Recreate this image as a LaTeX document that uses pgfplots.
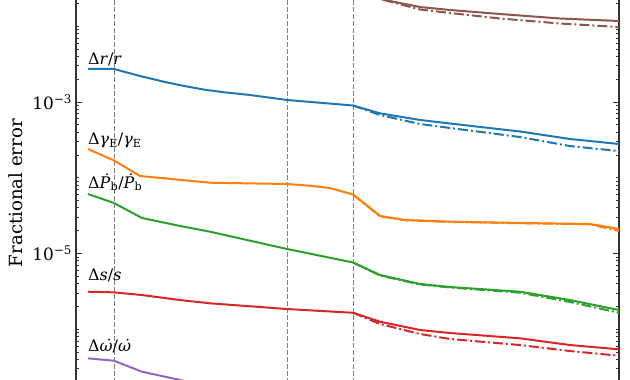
\documentclass[border=0pt]{standalone}
\usepackage{fontspec}
\setmainfont{DejaVu Serif}
\usepackage{pgfplots}
\pgfplotsset{compat=1.18}
\definecolor{tblue}{HTML}{1F77B4}
\definecolor{torange}{HTML}{FF7F0E}
\definecolor{tgreen}{HTML}{2CA02C}
\definecolor{tred}{HTML}{D62728}
\definecolor{tpurple}{HTML}{9467BD}
\definecolor{tbrown}{HTML}{8C564B}
\begin{document}
\begin{tikzpicture}
\begin{axis}[
  scale only axis, width=543bp, height=380bp,
  xmin=76, xmax=619,
  ymode=log, ymin=2.138e-7, ymax=0.02221,
  hide x axis,
  axis line style={black!80, line width=1.2bp},
  tick align=inside,
  major tick length=6bp, minor tick length=3.5bp,
  every tick/.style={black!80, line width=0.9bp},
  ytick={1e-5,1e-3},
  yticklabels={10\textsuperscript{−5},10\textsuperscript{−3}},
  minor ytick={3e-7,4e-7,5e-7,6e-7,7e-7,8e-7,9e-7,1e-6,2e-6,3e-6,4e-6,5e-6,6e-6,7e-6,8e-6,9e-6,2e-5,3e-5,4e-5,5e-5,6e-5,7e-5,8e-5,9e-5,1e-4,2e-4,3e-4,4e-4,5e-4,6e-4,7e-4,8e-4,9e-4,2e-3,3e-3,4e-3,5e-3,6e-3,7e-3,8e-3,9e-3,1e-2,2e-2},
  yticklabel style={font=\fontsize{17}{19}\selectfont, xshift=-0.5bp},
  ylabel={Fractional error},
  ylabel style={at={(axis description cs:-0.1105,0.492)}, anchor=center, font=\fontsize{18.2}{20}\selectfont},
  every axis plot/.append style={line width=2bp},
  dd/.style={dash pattern=on 10bp off 3bp on 2bp off 3bp},
]
\coordinate (SW) at (rel axis cs:0,0);
\coordinate (NE) at (rel axis cs:1,1);
% vertical reference lines
\addplot[gray, line width=1bp, dash pattern=on 4.5bp off 2.5bp] coordinates {(114.5,1e-8) (114.5,1)};
\addplot[gray, line width=1bp, dash pattern=on 4.5bp off 2.5bp] coordinates {(287.3,1e-8) (287.3,1)};
\addplot[gray, line width=1bp, dash pattern=on 4.5bp off 2.5bp] coordinates {(353.5,1e-8) (353.5,1)};
% brown
\addplot[tbrown, dd] coordinates {(88,0.2527) (353,0.02748) (380,0.02290) (420,0.01664) (450,0.01496) (500,0.01266) (560,0.01087) (619,0.00977)};
\addplot[tbrown] coordinates {(88,0.2527) (353,0.02748) (385,0.02221) (420,0.01795) (450,0.01639) (500,0.01451) (560,0.01266) (619,0.01173)};
% blue
\addplot[tblue, dd] coordinates {(353,8.99e-4) (380,6.74e-4) (420,5.12e-4) (450,4.54e-4) (520,3.45e-4) (570,2.62e-4) (619,2.25e-4)};
\addplot[tblue] coordinates {(88,2.727e-3) (114,2.727e-3) (140,2.204e-3) (165,1.837e-3) (185,1.62e-3) (205,1.45e-3) (225,1.34e-3) (250,1.237e-3) (287,1.063e-3) (353,8.99e-4) (380,7.09e-4) (420,5.79e-4) (450,5.20e-4) (520,4.08e-4) (570,3.25e-4) (619,2.79e-4)};
% orange
\addplot[torange, dd] coordinates {(353,6.01e-5) (380,3.10e-5) (405,2.75e-5) (450,2.61e-5) (520,2.51e-5) (590,2.43e-5) (619,1.98e-5)};
\addplot[torange] coordinates {(88,2.396e-4) (114,1.689e-4) (140,1.055e-4) (210,8.60e-5) (287,8.27e-5) (310,7.85e-5) (330,7.32e-5) (353,6.01e-5) (380,3.13e-5) (405,2.77e-5) (450,2.63e-5) (520,2.53e-5) (590,2.45e-5) (619,2.11e-5)};
% green
\addplot[tgreen, dd] coordinates {(353,7.61e-6) (380,5.12e-6) (420,3.90e-6) (450,3.56e-6) (520,3.04e-6) (570,2.29e-6) (619,1.65e-6)};
\addplot[tgreen] coordinates {(88,6.10e-5) (114,4.64e-5) (142,2.94e-5) (180,2.31e-5) (210,1.94e-5) (287,1.147e-5) (353,7.61e-6) (380,5.20e-6) (420,3.96e-6) (450,3.61e-6) (520,3.13e-6) (570,2.43e-6) (619,1.795e-6)};
% red
\addplot[tred, dd] coordinates {(353,1.65e-6) (380,1.173e-6) (420,8.66e-7) (450,7.44e-7) (520,6.19e-7) (570,5.16e-7) (619,4.47e-7)};
\addplot[tred] coordinates {(88,3.13e-6) (114,3.07e-6) (142,2.83e-6) (180,2.43e-6) (210,2.20e-6) (287,1.85e-6) (353,1.65e-6) (380,1.258e-6) (420,9.77e-7) (450,8.92e-7) (520,7.59e-7) (570,6.19e-7) (619,5.43e-7)};
% purple
\addplot[tpurple] coordinates {(88,4.13e-7) (114,3.84e-7) (142,2.75e-7) (180,2.14e-7) (210,1.78e-7) (287,1.31e-7) (353,1.16e-7)};
% labels
\node[anchor=base west, inner sep=0pt, font=\fontsize{16}{18}\selectfont] at (axis cs:88,3.17e-3) {Δ\textit{r}/\textit{r}};
\node[anchor=base west, inner sep=0pt, font=\fontsize{16}{18}\selectfont] at (axis cs:88,2.71e-4) {Δ\textit{γ}\textsubscript{E}/\textit{γ}\textsubscript{E}};
\node[anchor=base west, inner sep=0pt, font=\fontsize{16}{18}\selectfont] at (axis cs:88,7.32e-5) {Δ\textit{Ṗ}\textsubscript{b}/\textit{Ṗ}\textsubscript{b}};
\node[anchor=base west, inner sep=0pt, font=\fontsize{16}{18}\selectfont] at (axis cs:88,4.34e-6) {Δ\textit{s}/\textit{s}};
\node[anchor=base west, inner sep=0pt, font=\fontsize{16}{18}\selectfont] at (axis cs:88,5.16e-7) {Δ\textit{ω̇}/\textit{ω̇}};
\end{axis}
\pgfresetboundingbox
\path[use as bounding box] ([xshift=-76bp]SW) rectangle ([xshift=11bp]NE);
\end{tikzpicture}
\end{document}
